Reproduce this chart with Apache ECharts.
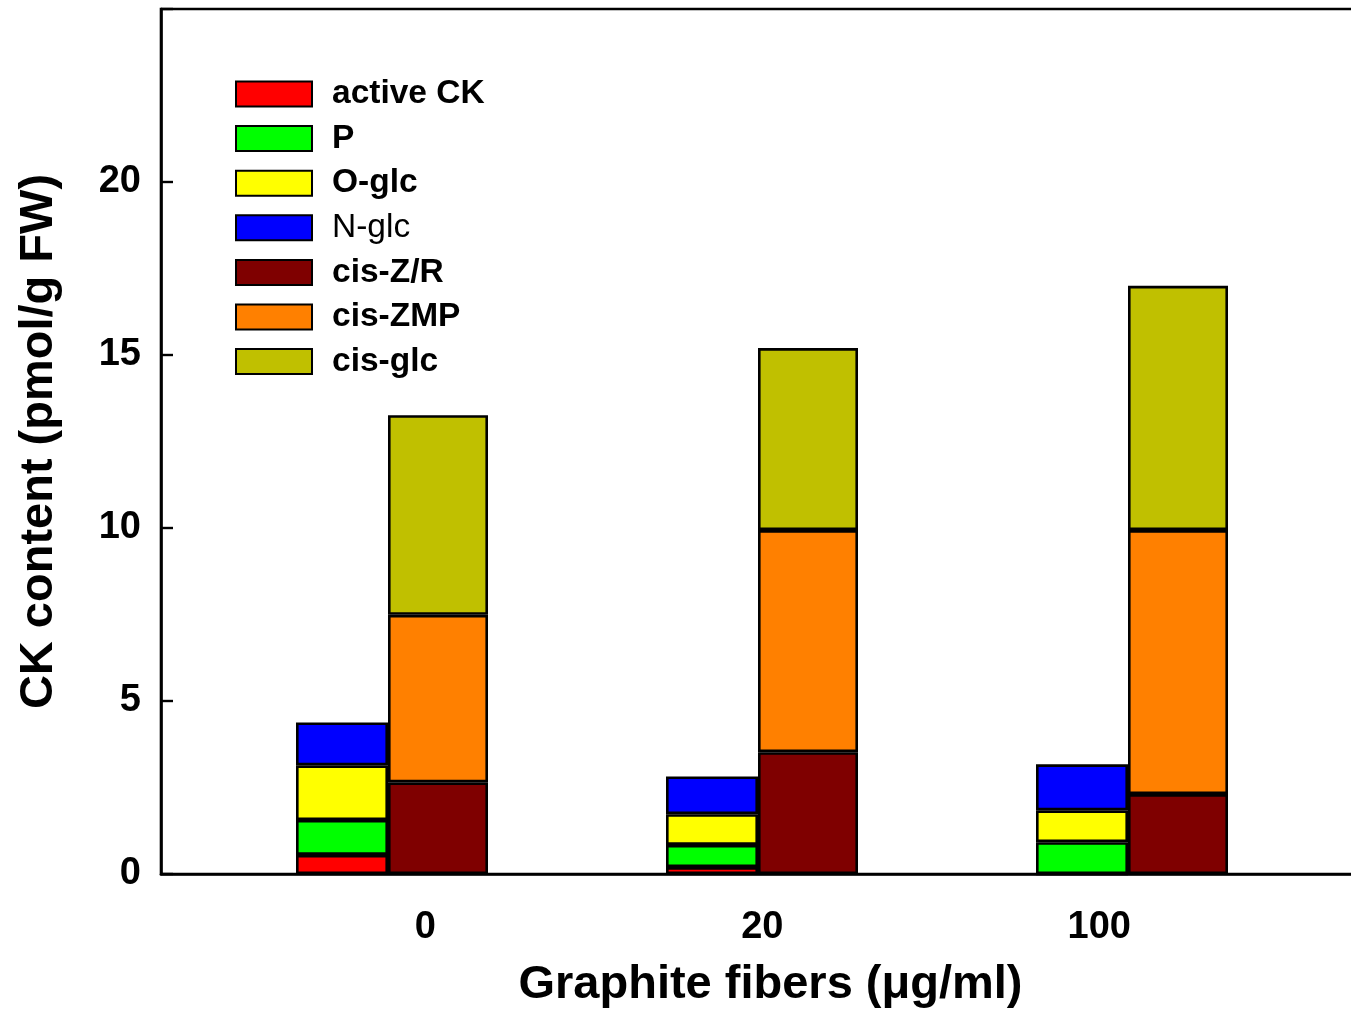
<!DOCTYPE html>
<html>
<head>
<meta charset="utf-8">
<title>CK content</title>
<script src="https://cdn.jsdelivr.net/npm/echarts@6/dist/echarts.min.js"></script>
<style>
  html, body { margin: 0; padding: 0; background: #fff; }
  #chart { width: 1351px; height: 1010px; }
</style>
</head>
<body>
<div id="chart"></div>
<script>
// Graphite fiber doses (x tick labels)
const doses = ['0', '20', '100'];

// Left stack: active CK and its conjugates (pmol/g FW)
const activeCK = [0.55, 0.20, 0.00];
const pForms   = [1.01, 0.64, 0.92];
const oGlc     = [1.58, 0.89, 0.92];
const nGlc     = [1.24, 1.09, 1.33];

// Right stack: cis-zeatin types (pmol/g FW)
const cisZR  = [2.65, 3.52, 2.31];
const cisZMP = [4.84, 6.42, 7.63];
const cisGlc = [5.77, 5.26, 7.06];

const yTicks = [0, 5, 10, 15, 20];

const FONT = 'Arial, "Liberation Sans", Helvetica, sans-serif';

// Frame grid (axes, ticks, labels) and an inner grid that carries the bars.
// Both share the same vertical extent and the same 0..25 scale.
const FRAME = { left: 161, right: -3, top: 9, bottom: 136 };
const BARS  = { left: 207, right: 1351 - 1317, top: 9, bottom: 136 };

// tick labels on the frame axis sit slightly tighter than the bar groups
// (frame axis runs 0..1 across its width)
const labelPos = doses.map((d, i) => 0.504 + (i - 1) * 0.2825);

function stackSeries(name, values, color, stack, width) {
  return {
    name: name,
    type: 'bar',
    xAxisIndex: 1,
    yAxisIndex: 1,
    stack: stack,
    barWidth: width,
    barGap: '0%',
    data: values.slice(),
    itemStyle: { color: color, borderColor: '#000', borderWidth: 2.6 },
    emphasis: { disabled: true },
    animation: false
  };
}

const series = [
  stackSeries('active CK', activeCK, '#ff0000', 'L', 92),
  stackSeries('P', pForms, '#00ff00', 'L', 92),
  stackSeries('O-glc', oGlc, '#ffff00', 'L', 92),
  stackSeries('N-glc', nGlc, '#0000ff', 'L', 92),
  stackSeries('cis-Z/R', cisZR, '#7f0000', 'R', 100),
  stackSeries('cis-ZMP', cisZMP, '#ff8000', 'R', 100),
  stackSeries('cis-glc', cisGlc, '#c0c000', 'R', 100)
];

const legendNames = series.map(s => s.name);

const chart = echarts.init(document.getElementById('chart'), null, { renderer: 'canvas' });
chart.setOption({
  backgroundColor: '#fff',
  animation: false,
  textStyle: { fontFamily: FONT, color: '#000' },
  grid: [
    Object.assign({ show: true, borderColor: '#000', borderWidth: 2.6, backgroundColor: 'transparent',
                    outerBoundsMode: 'none', containLabel: false }, FRAME),
    Object.assign({ show: false, outerBoundsMode: 'none', containLabel: false }, BARS)
  ],
  legend: {
    orient: 'vertical',
    left: 230, top: 72,
    itemWidth: 76, itemHeight: 25, itemGap: 10.6,
    icon: 'rect',
    selectedMode: false,
    data: legendNames.map(n => ({
      name: n,
      textStyle: { fontWeight: n === 'N-glc' ? 'normal' : 'bold' }
    })),
    textStyle: {
      fontFamily: FONT, fontSize: 33.5, color: '#000', fontWeight: 'bold',
      lineHeight: 25, padding: [0, 0, 0, 15]
    }
  },
  xAxis: [
    {
      gridIndex: 0,
      type: 'value',
      min: 0, max: 1,
      splitLine: { show: false },
      axisTick: { show: false },
      axisLine: { onZero: false, lineStyle: { color: '#000', width: 2.6 } },
      axisLabel: {
        customValues: labelPos,
        formatter: function (v) {
          let best = 0;
          labelPos.forEach((p, i) => { if (Math.abs(p - v) < Math.abs(labelPos[best] - v)) best = i; });
          return doses[best];
        },
        fontFamily: FONT, fontSize: 38, fontWeight: 'bold', color: '#000', margin: 35
      },
      name: 'Graphite fibers (\u03bcg/ml)',
      nameLocation: 'middle',
      nameGap: 88,
      nameTextStyle: { fontFamily: FONT, fontSize: 47, fontWeight: 'bold', color: '#000', padding: [0, 0, 0, 26] }
    },
    {
      gridIndex: 1,
      type: 'category',
      data: doses,
      show: false
    }
  ],
  yAxis: [
    {
      gridIndex: 0,
      type: 'value',
      min: 0, max: 25, interval: 5,
      splitLine: { show: false },
      axisLine: { show: true, lineStyle: { color: '#000', width: 2.6 } },
      axisTick: { show: true, inside: true, length: 12, lineStyle: { color: '#000', width: 2.4 } },
      axisLabel: {
        formatter: v => (yTicks.indexOf(v) >= 0 ? String(v) : ''),
        fontFamily: FONT, fontSize: 38, fontWeight: 'bold', color: '#000', margin: 20
      },
      name: 'CK content (pmol/g FW)',
      nameLocation: 'middle',
      nameGap: 98,
      nameTextStyle: { fontFamily: FONT, fontSize: 47, fontWeight: 'bold', color: '#000' }
    },
    {
      gridIndex: 1,
      type: 'value',
      min: 0, max: 25, interval: 5,
      show: false
    }
  ],
  series: series
});
</script>
</body>
</html>
